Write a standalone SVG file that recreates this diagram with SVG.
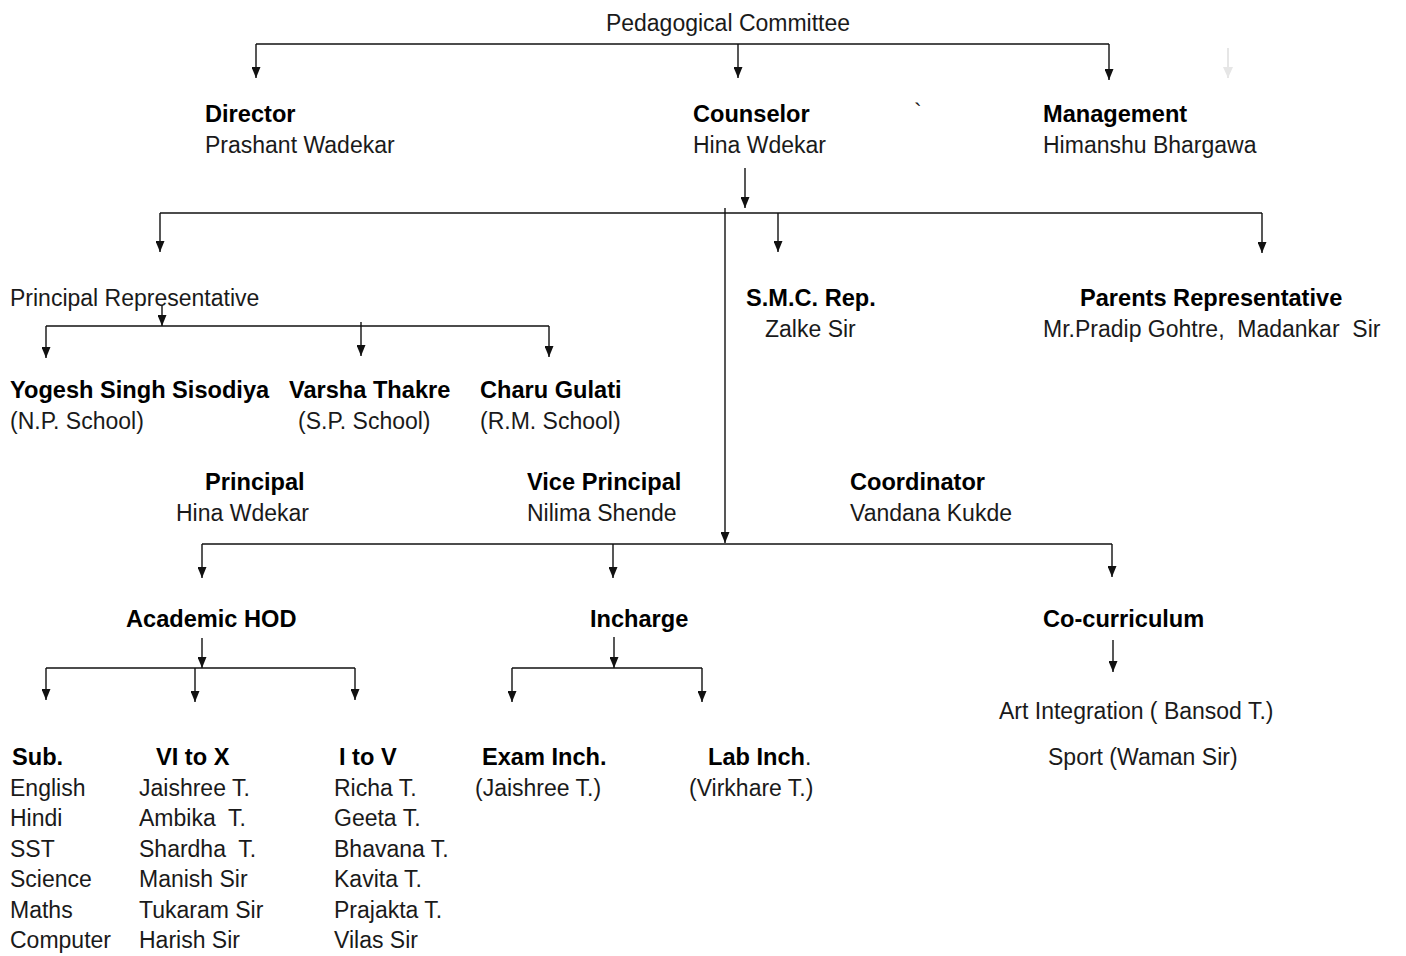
<svg xmlns="http://www.w3.org/2000/svg" width="1406" height="956" viewBox="0 0 1406 956">
<style>
text{font-family:"Liberation Sans",Arial,sans-serif;fill:#1a1a1a;font-size:23px}
.b{font-weight:bold;font-size:23.6px;fill:#000}
.ln{fill:none;stroke:#111;stroke-width:1.6}
.ar{fill:none;stroke:#111;stroke-width:1.4;marker-end:url(#ah)}
</style>
<defs>
<marker id="ah" viewBox="0 0 10 10" refX="10" refY="5" markerWidth="11" markerHeight="9" preserveAspectRatio="none" orient="auto" markerUnits="userSpaceOnUse"><path d="M0,0 L10,5 L0,10 z" fill="#111"/></marker>
<marker id="ahg" viewBox="0 0 10 10" refX="10" refY="5" markerWidth="11" markerHeight="10" preserveAspectRatio="none" orient="auto" markerUnits="userSpaceOnUse"><path d="M0,0 L10,5 L0,10 z" fill="#e6e6e6"/></marker>
</defs>
<rect width="1406" height="956" fill="#fff"/>
<g id="connectors">
<path class="ln" d="M256,44 H1109"/>
<path class="ar" d="M256,44 V78"/>
<path class="ar" d="M738,44 V78"/>
<path class="ar" d="M1109,44 V80"/>
<path d="M1228,48 V78" fill="none" stroke="#e6e6e6" stroke-width="2" marker-end="url(#ahg)"/>
<path class="ar" d="M745,168 V208"/>
<path class="ln" d="M160,213 H1262"/>
<path class="ar" d="M160,213 V252"/>
<path class="ar" d="M778,213 V252"/>
<path class="ar" d="M1262,213 V253"/>
<path class="ar" d="M725,208 V543"/>
<path class="ar" d="M162,305 V326"/>
<path class="ln" d="M46,326 H549"/>
<path class="ar" d="M46,326 V358"/>
<path class="ar" d="M361,322 V356"/>
<path class="ar" d="M549,326 V357"/>
<path class="ln" d="M202,544 H1112"/>
<path class="ar" d="M202,544 V578"/>
<path class="ar" d="M613,544 V578"/>
<path class="ar" d="M1112,544 V577"/>
<path class="ar" d="M202,638 V668"/>
<path class="ln" d="M46,668 H355"/>
<path class="ar" d="M46,668 V700"/>
<path class="ar" d="M195,668 V702"/>
<path class="ar" d="M355,668 V700"/>
<path class="ar" d="M614,637 V668"/>
<path class="ln" d="M512,668 H702"/>
<path class="ar" d="M512,668 V702"/>
<path class="ar" d="M702,668 V702"/>
<path class="ar" d="M1113,640 V672"/>
</g>
<g id="title"><text x="728" y="31" text-anchor="middle">Pedagogical Committee</text></g>
<g id="director"><text class="b" x="205" y="122">Director</text><text x="205" y="153">Prashant Wadekar</text></g>
<g id="counselor"><text class="b" x="693" y="122">Counselor</text><text x="693" y="153">Hina Wdekar</text></g>
<text x="914" y="120" font-size="16">`</text>
<g id="management"><text class="b" x="1043" y="122">Management</text><text x="1043" y="153">Himanshu Bhargawa</text></g>
<g id="principal-rep"><text x="10" y="306">Principal Representative</text></g>
<g id="smc"><text class="b" x="746" y="306">S.M.C. Rep.</text><text x="765" y="337">Zalke Sir</text></g>
<g id="parents"><text class="b" x="1080" y="306">Parents Representative</text><text x="1043" y="337" xml:space="preserve">Mr.Pradip Gohtre,  Madankar  Sir</text></g>
<g id="yogesh"><text class="b" x="10" y="398">Yogesh Singh Sisodiya</text><text x="10" y="429">(N.P. School)</text></g>
<g id="varsha"><text class="b" x="289" y="398">Varsha Thakre</text><text x="298" y="429">(S.P. School)</text></g>
<g id="charu"><text class="b" x="480" y="398">Charu Gulati</text><text x="480" y="429">(R.M. School)</text></g>
<g id="principal"><text class="b" x="205" y="490">Principal</text><text x="176" y="521">Hina Wdekar</text></g>
<g id="vice-principal"><text class="b" x="527" y="490">Vice Principal</text><text x="527" y="521">Nilima Shende</text></g>
<g id="coordinator"><text class="b" x="850" y="490">Coordinator</text><text x="850" y="521">Vandana Kukde</text></g>
<g id="academic-hod"><text class="b" x="126" y="627">Academic HOD</text></g>
<g id="incharge"><text class="b" x="590" y="627">Incharge</text></g>
<g id="cocurriculum"><text class="b" x="1043" y="627">Co-curriculum</text>
<text x="999" y="719">Art Integration ( Bansod T.)</text><text x="1048" y="765">Sport (Waman Sir)</text></g>
<g id="sub"><text class="b" x="12" y="765">Sub.</text>
<text x="10" y="796">English</text><text x="10" y="826">Hindi</text><text x="10" y="857">SST</text><text x="10" y="887">Science</text><text x="10" y="918">Maths</text><text x="10" y="948">Computer</text></g>
<g id="vi-x"><text class="b" x="156" y="765">VI to X</text>
<text x="139" y="796">Jaishree T.</text><text x="139" y="826" xml:space="preserve">Ambika  T.</text><text x="139" y="857" xml:space="preserve">Shardha  T.</text><text x="139" y="887">Manish Sir</text><text x="139" y="918">Tukaram Sir</text><text x="139" y="948">Harish Sir</text></g>
<g id="i-v"><text class="b" x="339" y="765">I to V</text>
<text x="334" y="796">Richa T.</text><text x="334" y="826">Geeta T.</text><text x="334" y="857">Bhavana T.</text><text x="334" y="887">Kavita T.</text><text x="334" y="918">Prajakta T.</text><text x="334" y="948">Vilas Sir</text></g>
<g id="exam"><text class="b" x="482" y="765">Exam Inch.</text><text x="475" y="796">(Jaishree T.)</text></g>
<g id="lab"><text x="708" y="765"><tspan class="b">Lab Inch</tspan>.</text><text x="689" y="796">(Virkhare T.)</text></g>
</svg>
